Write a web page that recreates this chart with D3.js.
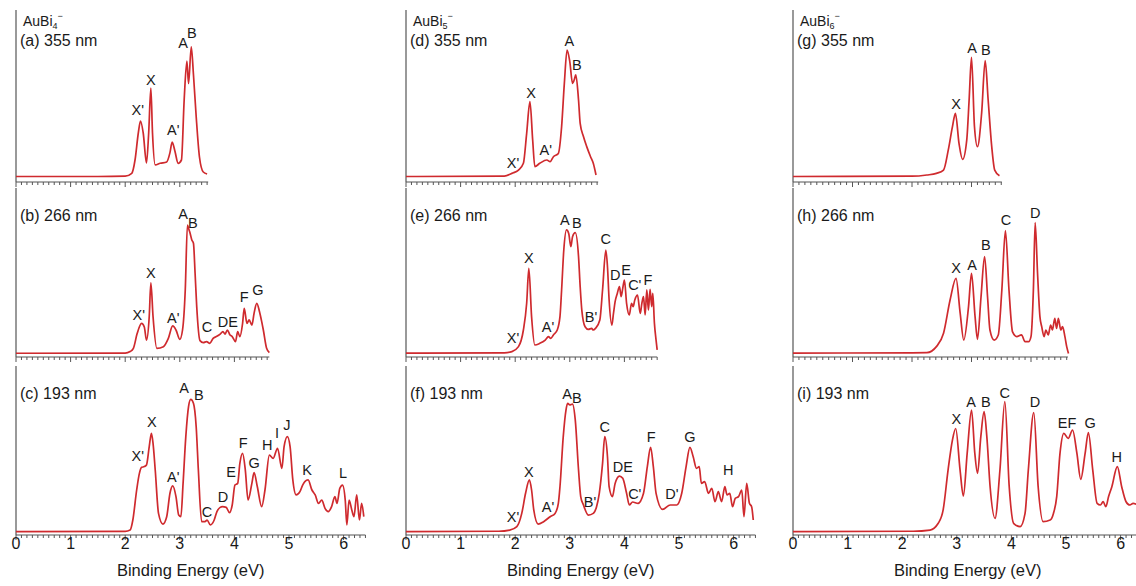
<!DOCTYPE html>
<html lang="en">
<head>
  <meta charset="UTF-8">
  <title>AuBi4-, AuBi5-, AuBi6- photoelectron spectra</title>
  <script src="https://d3js.org/d3.v7.min.js"></script>
  <style>
    html, body {
      margin: 0;
      background: #fff;
    }
    svg {
      display: block;
    }
    text {
      font-family: "Liberation Sans", Arial, sans-serif;
      fill: #1a1a1a;
    }
    .spectrum {
      fill: none;
      stroke: #cf2a2e;
      stroke-width: 1.7px;
      stroke-linejoin: round;
    }
    .axis-line {
      stroke: #555;
      stroke-width: 1.2px;
    }
  </style>
</head>
<body>
  <svg width="1136" height="586"></svg>
  <script>
    // panel (a)..(i): [binding energy eV, relative intensity]
    const specA = [[0,0.01],[1.5,0.01],[2.0,0.012],[2.12,0.031],[2.18,0.12],[2.24,0.30],[2.28,0.38],[2.33,0.30],[2.39,0.10],[2.43,0.30],[2.47,0.60],[2.50,0.30],[2.55,0.087],[2.64,0.098],[2.76,0.107],[2.82,0.169],[2.86,0.24],[2.91,0.18],[2.97,0.098],[3.03,0.12],[3.08,0.52],[3.13,0.78],[3.16,0.63],[3.21,0.875],[3.25,0.69],[3.30,0.41],[3.36,0.14],[3.43,0.04],[3.50,0.027]];
    const specB = [[0,0.005],[2.0,0.006],[2.09,0.016],[2.15,0.038],[2.22,0.138],[2.30,0.204],[2.35,0.18],[2.39,0.093],[2.44,0.249],[2.47,0.475],[2.51,0.249],[2.58,0.038],[2.70,0.049],[2.79,0.104],[2.87,0.187],[2.93,0.16],[3.00,0.098],[3.05,0.16],[3.10,0.427],[3.14,0.86],[3.16,0.838],[3.19,0.804],[3.22,0.76],[3.25,0.738],[3.28,0.538],[3.31,0.316],[3.37,0.089],[3.43,0.076],[3.49,0.082],[3.55,0.071],[3.61,0.104],[3.67,0.116],[3.74,0.133],[3.79,0.149],[3.83,0.133],[3.87,0.16],[3.92,0.127],[3.96,0.116],[4.02,0.082],[4.06,0.149],[4.10,0.116],[4.15,0.204],[4.18,0.304],[4.23,0.204],[4.27,0.227],[4.32,0.193],[4.36,0.271],[4.41,0.338],[4.46,0.282],[4.50,0.216],[4.53,0.16],[4.59,0.038],[4.64,0.009]];
    const specC = [[0,0.003],[2.0,0.004],[2.09,0.013],[2.14,0.08],[2.21,0.28],[2.26,0.391],[2.30,0.431],[2.35,0.436],[2.39,0.447],[2.44,0.569],[2.48,0.658],[2.51,0.591],[2.55,0.413],[2.61,0.124],[2.69,0.053],[2.76,0.102],[2.82,0.258],[2.87,0.307],[2.93,0.236],[2.98,0.113],[3.02,0.102],[3.06,0.324],[3.11,0.636],[3.16,0.836],[3.20,0.884],[3.25,0.858],[3.30,0.702],[3.34,0.413],[3.40,0.069],[3.46,0.069],[3.50,0.08],[3.56,0.047],[3.63,0.08],[3.68,0.136],[3.74,0.164],[3.78,0.169],[3.85,0.164],[3.91,0.129],[3.96,0.18],[4.01,0.313],[4.06,0.324],[4.10,0.458],[4.15,0.524],[4.20,0.413],[4.25,0.213],[4.32,0.324],[4.36,0.396],[4.42,0.302],[4.50,0.169],[4.56,0.28],[4.64,0.513],[4.71,0.491],[4.79,0.558],[4.87,0.424],[4.91,0.569],[4.97,0.636],[5.02,0.569],[5.07,0.347],[5.13,0.247],[5.20,0.269],[5.25,0.313],[5.29,0.336],[5.35,0.347],[5.42,0.28],[5.48,0.247],[5.54,0.191],[5.60,0.213],[5.66,0.158],[5.72,0.136],[5.78,0.169],[5.84,0.236],[5.88,0.191],[5.93,0.291],[5.98,0.313],[6.03,0.213],[6.06,0.047],[6.10,0.213],[6.15,0.147],[6.19,0.102],[6.24,0.247],[6.29,0.08],[6.33,0.191],[6.37,0.102]];
    const specD = [[0,0.01],[1.8,0.012],[1.94,0.031],[2.06,0.053],[2.15,0.098],[2.21,0.298],[2.27,0.509],[2.32,0.253],[2.36,0.076],[2.45,0.098],[2.58,0.12],[2.64,0.109],[2.70,0.142],[2.79,0.164],[2.85,0.342],[2.90,0.631],[2.95,0.853],[3.00,0.776],[3.05,0.631],[3.08,0.653],[3.11,0.687],[3.16,0.52],[3.19,0.364],[3.25,0.276],[3.31,0.209],[3.38,0.142],[3.43,0.098],[3.48,0.02]];
    const specE = [[0,0.006],[1.8,0.008],[1.94,0.016],[2.06,0.049],[2.15,0.16],[2.21,0.338],[2.25,0.571],[2.30,0.249],[2.36,0.06],[2.45,0.071],[2.55,0.093],[2.61,0.116],[2.65,0.104],[2.70,0.127],[2.77,0.16],[2.82,0.249],[2.85,0.427],[2.89,0.693],[2.94,0.827],[2.98,0.804],[3.02,0.716],[3.05,0.782],[3.10,0.809],[3.16,0.649],[3.19,0.449],[3.22,0.293],[3.28,0.182],[3.34,0.164],[3.40,0.171],[3.43,0.16],[3.47,0.171],[3.55,0.227],[3.60,0.427],[3.66,0.693],[3.69,0.582],[3.72,0.36],[3.77,0.193],[3.80,0.271],[3.83,0.349],[3.87,0.404],[3.91,0.449],[3.94,0.382],[3.97,0.438],[4.00,0.493],[4.04,0.338],[4.09,0.26],[4.13,0.338],[4.16,0.316],[4.19,0.36],[4.24,0.393],[4.29,0.271],[4.32,0.338],[4.35,0.382],[4.38,0.26],[4.41,0.427],[4.44,0.293],[4.47,0.431],[4.50,0.316],[4.52,0.404],[4.55,0.204],[4.58,0.093],[4.60,0.027]];
    const specF = [[0,0.003],[1.7,0.005],[1.90,0.013],[2.03,0.036],[2.12,0.124],[2.19,0.258],[2.26,0.347],[2.30,0.28],[2.34,0.147],[2.42,0.053],[2.52,0.069],[2.64,0.102],[2.73,0.124],[2.79,0.191],[2.82,0.302],[2.88,0.636],[2.93,0.813],[2.96,0.858],[3.00,0.847],[3.05,0.853],[3.10,0.747],[3.16,0.413],[3.20,0.236],[3.25,0.18],[3.34,0.113],[3.43,0.124],[3.49,0.169],[3.54,0.258],[3.60,0.458],[3.64,0.636],[3.69,0.502],[3.72,0.302],[3.78,0.236],[3.83,0.324],[3.91,0.373],[3.97,0.358],[4.04,0.258],[4.09,0.18],[4.15,0.2],[4.25,0.191],[4.35,0.258],[4.42,0.436],[4.48,0.564],[4.53,0.436],[4.58,0.258],[4.70,0.151],[4.84,0.18],[4.96,0.18],[5.05,0.258],[5.13,0.436],[5.20,0.564],[5.26,0.502],[5.32,0.424],[5.37,0.436],[5.41,0.324],[5.47,0.336],[5.54,0.258],[5.60,0.291],[5.66,0.202],[5.72,0.269],[5.78,0.202],[5.84,0.302],[5.88,0.247],[5.93,0.258],[5.98,0.169],[6.03,0.224],[6.09,0.236],[6.15,0.28],[6.19,0.102],[6.24,0.324],[6.29,0.191],[6.33,0.169],[6.36,0.08]];
    const specG = [[0,0.01],[2.0,0.012],[2.25,0.02],[2.41,0.031],[2.53,0.053],[2.61,0.187],[2.68,0.342],[2.73,0.431],[2.79,0.231],[2.85,0.124],[2.92,0.253],[2.96,0.52],[3.00,0.804],[3.05,0.342],[3.10,0.209],[3.17,0.431],[3.23,0.782],[3.28,0.52],[3.34,0.209],[3.39,0.053],[3.47,0.015]];
    const specH = [[0,0.006],[2.0,0.008],[2.25,0.009],[2.41,0.049],[2.53,0.138],[2.64,0.36],[2.74,0.504],[2.81,0.271],[2.87,0.093],[2.95,0.316],[3.00,0.538],[3.06,0.249],[3.10,0.098],[3.16,0.38],[3.22,0.649],[3.27,0.38],[3.31,0.16],[3.38,0.093],[3.45,0.127],[3.51,0.427],[3.57,0.822],[3.63,0.427],[3.69,0.147],[3.76,0.116],[3.84,0.127],[3.90,0.082],[3.96,0.082],[4.00,0.116],[4.04,0.427],[4.07,0.876],[4.11,0.538],[4.15,0.249],[4.18,0.182],[4.22,0.116],[4.25,0.16],[4.29,0.127],[4.33,0.193],[4.36,0.16],[4.40,0.238],[4.43,0.171],[4.46,0.238],[4.50,0.16],[4.53,0.182],[4.57,0.116],[4.60,0.049],[4.63,0.004]];
    const specI = [[0,0.003],[2.2,0.005],[2.51,0.013],[2.66,0.058],[2.75,0.147],[2.84,0.413],[2.92,0.613],[2.98,0.69],[3.06,0.413],[3.12,0.24],[3.19,0.524],[3.27,0.813],[3.33,0.524],[3.38,0.391],[3.44,0.636],[3.50,0.802],[3.55,0.636],[3.61,0.302],[3.70,0.091],[3.79,0.413],[3.88,0.869],[3.96,0.302],[4.04,0.058],[4.16,0.036],[4.25,0.124],[4.31,0.413],[4.41,0.796],[4.49,0.302],[4.58,0.069],[4.71,0.08],[4.77,0.124],[4.83,0.236],[4.89,0.524],[4.96,0.658],[5.04,0.624],[5.12,0.68],[5.20,0.524],[5.27,0.351],[5.35,0.524],[5.41,0.662],[5.49,0.413],[5.57,0.191],[5.63,0.18],[5.68,0.202],[5.73,0.169],[5.78,0.236],[5.84,0.302],[5.94,0.436],[6.02,0.302],[6.10,0.202],[6.17,0.18],[6.23,0.191],[6.32,0.18]];

    // peak labels: [text, energy, intensity] of the label centre
    const labA = [["X'",2.23,0.453],["X",2.47,0.653],["A'",2.88,0.32],["A",3.06,0.90],["B",3.22,0.967]];
    const labB = [["X'",2.25,0.26],["X",2.47,0.54],["A'",2.88,0.24],["A",3.06,0.933],["B",3.24,0.873],["C",3.50,0.18],["DE",3.88,0.213],["F",4.18,0.38],["G",4.43,0.427]];
    const labC = [["X'",2.23,0.507],["X",2.49,0.733],["A'",2.88,0.367],["A",3.08,0.96],["B",3.35,0.913],["C",3.50,0.133],["D",3.79,0.233],["E",3.94,0.40],["F",4.16,0.593],["G",4.36,0.46],["H",4.60,0.58],["I",4.78,0.66],["J",4.96,0.713],["K",5.33,0.413],["L",5.99,0.393]];
    const labD = [["X'",1.96,0.10],["X",2.29,0.567],["A'",2.56,0.187],["A",2.99,0.913],["B",3.13,0.753]];
    const labE = [["X'",1.96,0.107],["X",2.25,0.64],["A'",2.60,0.18],["A",2.91,0.893],["B",3.13,0.873],["B'",3.39,0.247],["C",3.66,0.767],["D",3.83,0.527],["E",4.03,0.56],["C'",4.19,0.46],["F",4.43,0.493]];
    const labF = [["X'",1.96,0.10],["X",2.25,0.40],["A'",2.60,0.167],["A",2.95,0.92],["B",3.13,0.893],["B'",3.37,0.20],["C",3.64,0.70],["DE",3.97,0.433],["C'",4.19,0.253],["F",4.49,0.633],["D'",4.87,0.253],["G",5.20,0.633],["H",5.90,0.413]];
    const labG = [["X",2.74,0.493],["A",3.01,0.867],["B",3.24,0.853]];
    const labH = [["X",2.74,0.573],["A",3.01,0.593],["B",3.24,0.727],["C",3.58,0.893],["D",4.07,0.94]];
    const labI = [["X",2.99,0.753],["A",3.26,0.867],["B",3.53,0.867],["C",3.88,0.927],["D",4.43,0.867],["EF",5.02,0.727],["G",5.44,0.727],["H",5.93,0.50]];

    const panelLetters = ["a", "b", "c", "d", "e", "f", "g", "h", "i"];
    const wavelengths = ["355", "266", "193"];
    const clusterSizes = ["4", "5", "6"];
    const axisMax = [3.52, 4.64, 6.4, 3.52, 4.6, 6.4, 3.51, 4.62, 6.4];
    const tickLabels = [0, 1, 2, 3, 4, 5, 6];

    const spectra = [specA, specB, specC, specD, specE, specF, specG, specH, specI];
    const labels = [labA, labB, labC, labD, labE, labF, labG, labH, labI];

    // layout
    const colX0 = [16, 406, 793];
    const rowBase = [178, 354, 532];   // zero intensity line
    const rowAxis = [182, 357, 535];   // x axis line
    const rowTop = [10, 188, 366];     // top of the y axis line
    const unitHeight = 150;

    const svg = d3.select("svg");

    panelLetters.forEach((letter, i) => {
      const col = Math.floor(i / 3);
      const row = i % 3;
      const x0 = colX0[col];
      // the top two AuBi6- panels are drawn a little wider in the original
      const pxPerEv = (col === 2 && row < 2) ? 59.5 : 54.6;

      const x = d3.scaleLinear().domain([0, axisMax[i]]).range([x0, x0 + axisMax[i] * pxPerEv]);
      const y = d3.scaleLinear().domain([0, 1]).range([rowBase[row], rowBase[row] - unitHeight]);

      const g = svg.append("g");

      // y axis: bare line
      g.append("line")
        .attr("class", "axis-line")
        .attr("x1", x0).attr("x2", x0)
        .attr("y1", rowTop[row]).attr("y2", rowAxis[row]);

      // x axis with ticks hanging below
      const axisY = rowAxis[row];
      g.append("line")
        .attr("class", "axis-line")
        .attr("x1", x0).attr("x2", x(axisMax[i]))
        .attr("y1", axisY).attr("y2", axisY);

      const ticks = d3.range(0, Math.floor(axisMax[i] * 10 + 1e-6) + 1).map(k => k / 10);
      g.selectAll("line.tick")
        .data(ticks)
        .enter().append("line")
        .attr("class", "tick")
        .attr("stroke", "#555")
        .attr("stroke-width", 1)
        .attr("x1", d => x(d)).attr("x2", d => x(d))
        .attr("y1", axisY)
        .attr("y2", d => axisY + (Math.abs(d - Math.round(d)) < 1e-6 ? 5 : 3));

      if (row === 2) {
        g.selectAll("text.ticklabel")
          .data(tickLabels.filter(t => t <= axisMax[i]))
          .enter().append("text")
          .attr("class", "ticklabel")
          .attr("x", d => x(d))
          .attr("y", axisY + 14)
          .attr("text-anchor", "middle")
          .attr("font-size", 16)
          .text(d => d);

        g.append("text")
          .attr("x", x(3.2))
          .attr("y", axisY + 41)
          .attr("text-anchor", "middle")
          .attr("font-size", 16.5)
          .text("Binding Energy (eV)");
      }

      // spectrum
      const line = d3.line()
        .x(d => x(d[0]))
        .y(d => y(d[1]))
        .curve(d3.curveMonotoneX);

      g.append("path")
        .datum(spectra[i])
        .attr("class", "spectrum")
        .attr("d", line);

      // peak labels
      g.selectAll("text.peak")
        .data(labels[i])
        .enter().append("text")
        .attr("class", "peak")
        .attr("x", d => x(d[1]))
        .attr("y", d => y(d[2]))
        .attr("text-anchor", "middle")
        .attr("dominant-baseline", "central")
        .attr("font-size", 14.5)
        .text(d => d[0]);

      // panel title
      g.append("text")
        .attr("x", x0 + 4)
        .attr("y", axisY - 136)
        .attr("font-size", 16)
        .text(`(${letter}) ${wavelengths[row]} nm`);

      if (row === 0) {
        const t = g.append("text")
          .attr("x", x0 + 7)
          .attr("y", 26)
          .attr("font-size", 14);
        t.append("tspan").text("AuBi");
        t.append("tspan").attr("font-size", 9).attr("dy", 3).text(clusterSizes[col]);
        t.append("tspan").attr("font-size", 9).attr("dy", -10).text("\u2212");
      }
    });
  </script>
</body>
</html>
